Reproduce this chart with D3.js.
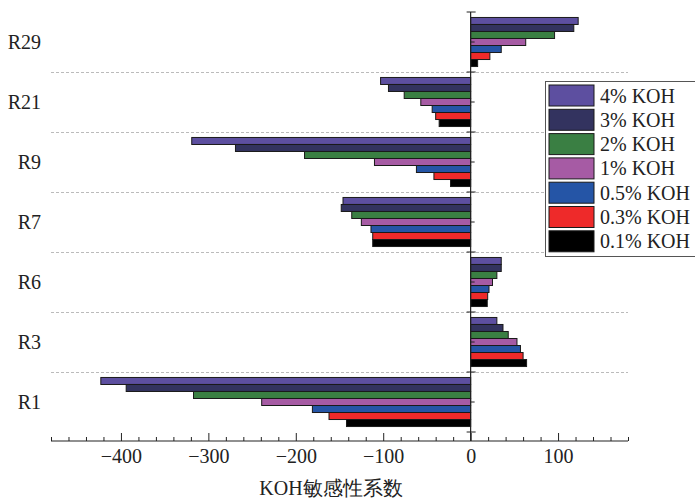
<!DOCTYPE html>
<html><head><meta charset="utf-8">
<script src="https://cdn.jsdelivr.net/npm/d3@7"></script>
<style>body{margin:0;background:#fff}svg{display:block}text{font-family:"Liberation Serif","Times New Roman",serif;fill:#222}</style>
</head><body><svg id="c" width="695" height="498"></svg>
<script>
const categories = ["R29","R21","R9","R7","R6","R3","R1"];
const seriesNames = ["4% KOH","3% KOH","2% KOH","1% KOH","0.5% KOH","0.3% KOH","0.1% KOH"];
const seriesColors = ["#5d4fa0","#33335f","#3a7f43","#a65ba4","#2555a6","#ee2a2a","#000000"];
const koh4  = [123, -103, -319, -146, 35, 30, -423];
const koh3  = [118, -94, -269, -148, 35, 37, -394];
const koh2  = [96, -76, -190, -136, 30, 43, -317];
const koh1  = [63, -57, -110, -125, 25, 53, -239];
const koh05 = [35, -44, -62, -114, 21, 57, -181];
const koh03 = [22, -40, -42, -112, 19.5, 60, -162];
const koh01 = [8, -36, -23, -112, 19, 64, -142];
const seriesValues = [koh4, koh3, koh2, koh1, koh05, koh03, koh01];
const majorTicks = [-400,-300,-200,-100,0,100];
const xLabel = "KOH敏感性系数";

const svg = d3.select("#c");
const x = d3.scaleLinear().domain([-480,180]).range([51,628]);
const y = d3.scaleBand().domain(categories).range([12,432]).paddingInner(0);
const yi = d3.scaleBand().domain(seriesNames).range([0,y.bandwidth()]).paddingInner(0).paddingOuter(0.78);
const axisY = 441;

// grid lines between categories
svg.append("g").selectAll("line").data(categories.slice(1)).join("line")
  .attr("x1", x.range()[0]).attr("x2", x.range()[1])
  .attr("y1", d => y(d)+0.5).attr("y2", d => y(d)+0.5)
  .attr("stroke","#bbb").attr("stroke-dasharray","3,2").attr("stroke-width",1);

// bars
const rows = [];
seriesNames.forEach((s,si) => categories.forEach((c,ci) => rows.push({s, c, v: seriesValues[si][ci], color: seriesColors[si]})));
svg.append("g").selectAll("rect").data(rows).join("rect")
  .attr("x", d => Math.min(x(0), x(d.v)))
  .attr("width", d => Math.abs(x(d.v)-x(0)))
  .attr("y", d => y(d.c)+yi(d.s))
  .attr("height", yi.bandwidth())
  .attr("fill", d => d.color).attr("stroke","#1a1a1a").attr("stroke-width",1);

// x axis
const gx = svg.append("g").attr("transform",`translate(0,${axisY})`);
gx.append("line").attr("x1",x.range()[0]).attr("x2",x.range()[1]).attr("stroke","#222").attr("stroke-width",1.2);
const minor = d3.range(-480,181,20).filter(v => !majorTicks.includes(v));
gx.append("g").call(d3.axisBottom(x).tickValues(minor).tickSize(-4).tickFormat(""))
  .call(g => g.select(".domain").remove()).selectAll("line").attr("stroke","#222");
gx.append("g").call(d3.axisBottom(x).tickValues(majorTicks).tickSize(-8).tickPadding(8).tickFormat(d3.format("d")))
  .call(g => g.select(".domain").remove())
  .call(g => g.selectAll("line").attr("stroke","#222"))
  .call(g => g.selectAll("text").attr("font-size",20).attr("font-family","'Liberation Serif',serif").attr("fill","#222"));

// vertical zero axis
const gy = svg.append("g");
gy.append("line").attr("x1",x(0)).attr("x2",x(0)).attr("y1",y.range()[0]).attr("y2",axisY).attr("stroke","#222").attr("stroke-width",1.2);
const bounds = categories.map(c => y(c)).concat([y.range()[1]]);
gy.selectAll(".bt").data(bounds).join("line").attr("class","bt")
  .attr("x1",x(0)-4).attr("x2",x(0)+5).attr("y1",d=>d).attr("y2",d=>d).attr("stroke","#222");
gy.selectAll(".ct").data(categories).join("line").attr("class","ct")
  .attr("x1",x(0)).attr("x2",x(0)+4).attr("y1",d=>y(d)+y.bandwidth()/2).attr("y2",d=>y(d)+y.bandwidth()/2).attr("stroke","#222");

// category labels
svg.append("g").selectAll("text").data(categories).join("text")
  .attr("x",41).attr("y",d => y(d)+y.bandwidth()/2).attr("dy","0.35em")
  .attr("text-anchor","end").attr("font-size",20).text(d=>d);

// x label
svg.append("text").attr("x",331).attr("y",495).attr("text-anchor","middle").attr("font-size",20).text(xLabel);

// legend
const lg = svg.append("g");
lg.append("rect").attr("x",545.5).attr("y",81.5).attr("width",160).attr("height",175).attr("fill","#fff").attr("stroke","#555").attr("stroke-width",1);
const li = lg.selectAll("g").data(seriesNames).join("g").attr("transform",(d,i)=>`translate(549,${85+i*24.3})`);
li.append("rect").attr("width",45).attr("height",21).attr("fill",(d,i)=>seriesColors[i]).attr("stroke","#1a1a1a").attr("stroke-width",1);
li.append("text").attr("x",51).attr("y",10.5).attr("dy","0.35em").attr("font-size",20).text(d=>d);
</script></body></html>
